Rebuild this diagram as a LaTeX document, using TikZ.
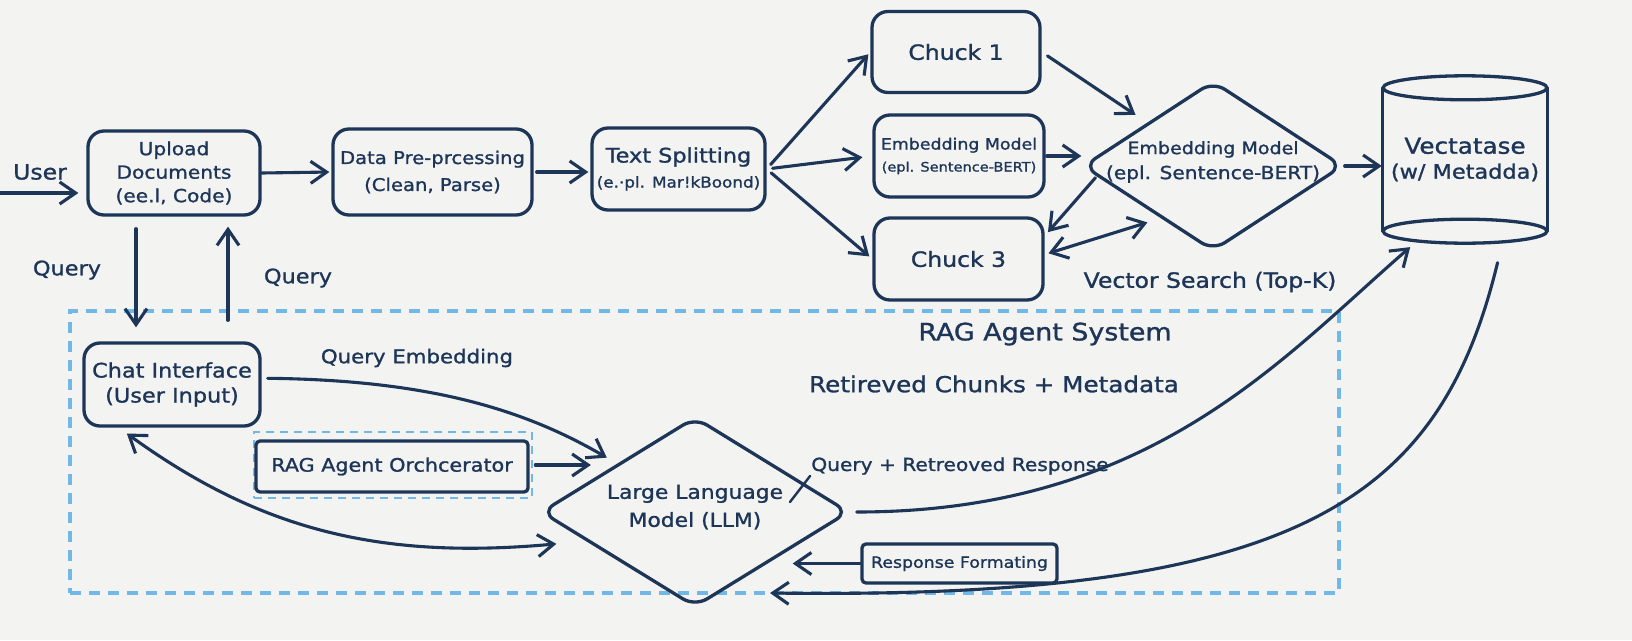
\documentclass[tikz,border=0pt]{standalone}
\usepackage{fontspec}
\setmainfont[FakeStretch=1.12,FakeBold=1.2]{DejaVu Sans}
\usetikzlibrary{arrows.meta,shapes.geometric,calc}
\definecolor{ink}{HTML}{1D3557}
\definecolor{sky}{HTML}{72B8E6}
\definecolor{paper}{HTML}{F3F3F2}
\begin{document}
\begin{tikzpicture}[x=1pt,y=-1pt,
  box/.style={draw=ink, line width=3.3pt, rounded corners=16pt, align=center, text=ink, inner sep=0pt},
  sqbox/.style={box, rounded corners=4pt},
  dia/.style={draw=ink, line width=3.3pt, shape=diamond, rounded corners=14pt, inner sep=0pt},
  arr/.style={draw=ink, line width=3.1pt, line cap=round, line join=round, -{Straight Barb[length=16pt,width=22pt]}},
  darr/.style={arr, {Straight Barb[length=16pt,width=22pt]}-{Straight Barb[length=16pt,width=22pt]}},
  lbl/.style={text=ink, inner sep=1pt, align=center},
  sysframe/.style={draw=sky, line width=3.2pt, dash pattern=on 11pt off 8pt},
  orchframe/.style={draw=sky, line width=2.6pt, dash pattern=on 8pt off 6pt},
  cyl/.style={draw=ink, line width=3.3pt},
  thinink/.style={draw=ink, line width=2.4pt, line cap=round},
]
\fill[paper] (0,0) rectangle (1632,640);
\useasboundingbox (0,0) rectangle (1632,640);

% system frame
\node[sysframe, minimum width=1269pt, minimum height=282pt, inner sep=0pt] (sys) at (704.5,452) {};

% top row
\node[box, minimum width=172pt, minimum height=84pt, font=\fontsize{18}{23.5}\selectfont] (upload) at (174,173) {Upload\\Documents\\(ee.l, Code)};
\node[box, minimum width=199pt, minimum height=86pt, font=\fontsize{17.5}{27}\selectfont] (data) at (432.5,172) {Data Pre-prcessing\\(Clean, Parse)};
\node[box, minimum width=173pt, minimum height=82pt, font=\fontsize{20}{25}\selectfont] (ts) at (678.5,169) {Text Splitting\\{\fontsize{15}{25}\selectfont (e.·pl. Mar!kBoond)}};
\node[box, minimum width=168pt, minimum height=81pt, font=\fontsize{21}{25}\selectfont] (chuck1) at (956,52) {Chuck 1};
\node[box, minimum width=170pt, minimum height=82pt, font=\fontsize{15.5}{22}\selectfont] (emb) at (959,156) {Embedding Model\\{\fontsize{13}{22}\selectfont (epl. Sentence-BERT)}};
\node[box, minimum width=169pt, minimum height=82pt, font=\fontsize{21}{25}\selectfont] (chuck3) at (958.5,259) {Chuck 3};
\node[dia, minimum width=260pt, minimum height=170pt] (embd) at (1213,166) {};
\node[lbl, font=\fontsize{17}{25}\selectfont] (embdtxt) at (1213,162) {Embedding Model\\{\fontsize{18}{25}\selectfont (epl. Sentence-BERT)}};

% vector database cylinder
\node[lbl, minimum width=164pt, minimum height=167pt, inner sep=0pt, font=\fontsize{22}{25}\selectfont] (vdb) at (1465,159.5) {Vectatase\\{\fontsize{20}{25}\selectfont (w/ Metadda)}};
\draw[cyl] ($(vdb.north)+(0,12)$) ellipse [x radius=82pt, y radius=12pt];
\draw[cyl] ($(vdb.south)+(0,-12)$) ellipse [x radius=82pt, y radius=12pt];
\draw[cyl] ($(vdb.north west)+(0,12)$) -- ($(vdb.south west)+(0,-12)$);
\draw[cyl] ($(vdb.north east)+(0,12)$) -- ($(vdb.south east)+(0,-12)$);

% lower part
\node[box, minimum width=176pt, minimum height=83pt, font=\fontsize{20}{25}\selectfont] (chat) at (172,384.5) {Chat Interface\\(User Input)};
\node[orchframe, minimum width=278pt, minimum height=66pt, inner sep=0pt] (orchd) at (393,465) {};
\node[sqbox, minimum width=272pt, minimum height=51pt, font=\fontsize{18.5}{22}\selectfont] (orch) at (392,466.5) {RAG Agent Orchcerator};
\node[dia, minimum width=308pt, minimum height=190pt] (llm) at (695,512) {};
\node[lbl, font=\fontsize{19.5}{28}\selectfont] (llmtxt) at (695,507) {Large Language\\Model (LLM)};
\node[sqbox, minimum width=195pt, minimum height=39pt, font=\fontsize{15.5}{20}\selectfont] (resp) at (959.5,563.5) {Response Formating};

% labels
\node[lbl, font=\fontsize{21}{25}\selectfont] (user) at (40,172) {User};
\node[lbl, font=\fontsize{20}{25}\selectfont] (queryl) at (67,270) {Query};
\node[lbl, font=\fontsize{20}{25}\selectfont] (queryr) at (298,278) {Query};
\node[lbl, font=\fontsize{19}{25}\selectfont] (qemb) at (417,358) {Query Embedding};
\node[lbl, font=\fontsize{24}{28}\selectfont] (ragsys) at (1045,334) {RAG Agent System};
\node[lbl, font=\fontsize{22}{26}\selectfont] (retr) at (994,384) {Retireved Chunks + Metadata};
\node[lbl, font=\fontsize{21}{25}\selectfont] (vsearch) at (1210,282) {Vector Search (Top-K)};
\node[lbl, font=\fontsize{18}{22}\selectfont] (qrr) at (960,466) {Query + Retreoved Response};

% connectors: top row
\coordinate (userin) at (0,193);
\draw[arr, shorten >=8pt] (userin) -- (userin -| upload.west);
\draw[arr, shorten >=2pt] (upload.east) -- (data.west);
\draw[arr, shorten <=3pt, shorten >=2pt] (data.east) -- (data.east -| ts.west);
\draw[arr, shorten <=6pt, shorten >=3pt] (ts.east) -- (chuck1.west);
\draw[arr, shorten <=6pt, shorten >=10pt] (ts.east) -- (emb.west);
\draw[arr, shorten <=6pt, shorten >=4pt] (ts.east) -- (chuck3.west);
\draw[arr, shorten <=7pt, shorten >=14pt] (chuck1.east) -- (embd.north west);
\draw[arr, shorten <=1pt] (emb.east) -- (emb.east -| embd.west);
\draw[arr, shorten <=2pt, shorten >=5pt] (embd.185) -- (chuck3.15);
\draw[darr, shorten <=4pt, shorten >=14pt] (chuck3.3) -- (embd.225);
\draw[arr, shorten >=1pt] (embd.east) -- (embd.east -| vdb.west);

% connectors: query up/down
\coordinate (qd) at (136,0);
\coordinate (qu) at (228,0);
\draw[arr, shorten <=12pt, shorten >=14pt] (upload.south -| qd) -- (chat.north -| qd);
\draw[arr, shorten <=21pt, shorten >=10pt] (chat.north -| qu) -- (upload.south -| qu);

% connectors: lower part
\draw[arr, shorten <=6pt, shorten >=12pt] (chat.4) .. controls (430,380) and (525,410) .. (llm.north west);
\draw[arr, shorten <=2pt, shorten >=6pt] (orchd.east) -- (orchd.east -| llm.160);
\draw[darr, shorten <=10pt, shorten >=30pt] (chat.219) .. controls (260,530) and (380,560) .. (llm.195);
\draw[arr, shorten <=6pt, shorten >=6pt] (llm.east) .. controls (1150,512) and (1280,360) .. (vdb.239);
\coordinate (retin) at (770,593);
\draw[arr, shorten <=20pt] (vdb.-66) .. controls (1440,500) and (1300,600) .. (retin);
\draw[arr, shorten >=17pt] (resp.west) -- (resp.west -| llm.-30);
\coordinate (tick) at (790,502);
\draw[thinink] (tick) -- (qrr.south west);
\end{tikzpicture}
\end{document}
